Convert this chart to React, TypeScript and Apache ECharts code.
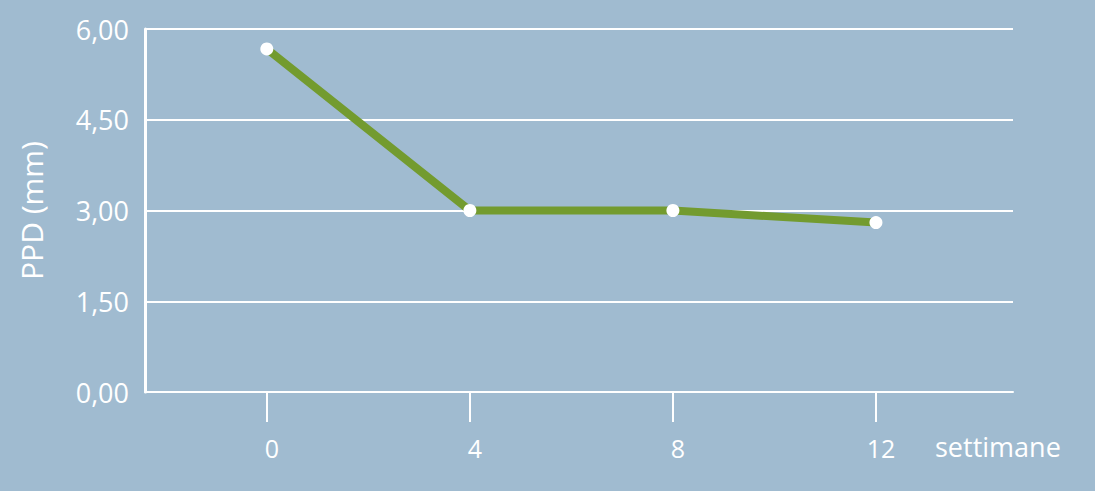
import React, { useEffect, useRef } from 'react';
import * as echarts from 'echarts';

// weeks and PPD values (mm)
const weeks = [0, 4, 8, 12];
const ppd = [5.67, 3.0, 3.0, 2.8];
const yTicks = [0, 1.5, 3, 4.5, 6];

const BG = '#a0bbd0';
const GREEN = '#739b2f';
const FONT = "'Open Sans', sans-serif";

const App: React.FC = () => {
  const chartRef = useRef<HTMLDivElement>(null);

  useEffect(() => {
    if (!chartRef.current) return;
    const chart = echarts.init(chartRef.current, null, { renderer: 'svg' });

    const option: echarts.EChartsOption = {
      animation: false,
      backgroundColor: BG,
      grid: { left: 145, right: 82, top: 29, bottom: 99 },
      xAxis: {
        type: 'value',
        min: -2.4,
        max: 14.7,
        name: 'settimane',
        nameLocation: 'end',
        nameGap: -78,
        nameTextStyle: {
          color: '#fff',
          fontFamily: FONT,
          fontSize: 27,
          align: 'left',
          verticalAlign: 'top',
          padding: [41, 0, 0, 0]
        },
        axisLine: { show: true, onZero: false, lineStyle: { color: '#fff', width: 2 } },
        axisTick: {
          show: true,
          customValues: weeks,
          length: 30,
          lineStyle: { color: '#fff', width: 2 }
        },
        axisLabel: {
          customValues: weeks,
          color: '#fff',
          fontFamily: FONT,
          fontSize: 25,
          margin: 43,
          padding: [0, 0, 0, 10]
        },
        splitLine: { show: false }
      },
      yAxis: {
        type: 'value',
        min: 0,
        max: 6,
        interval: 1.5,
        name: 'PPD (mm)',
        nameLocation: 'middle',
        nameRotate: 90,
        nameGap: 99,
        nameTextStyle: { color: '#fff', fontFamily: FONT, fontSize: 30 },
        axisLine: { show: true, onZero: false, lineStyle: { color: '#fff', width: 3 } },
        axisTick: { show: false },
        axisLabel: {
          color: '#fff',
          fontFamily: FONT,
          fontSize: 27,
          margin: 16,
          formatter: (v: number) => (yTicks.includes(v) ? v.toFixed(2).replace('.', ',') : '')
        },
        splitLine: { show: true, lineStyle: { color: '#fff', width: 2 } }
      },
      series: [
        {
          type: 'line',
          data: weeks.map((w, i) => [w, ppd[i]]),
          lineStyle: { color: GREEN, width: 8 },
          symbol: 'circle',
          symbolSize: 13,
          itemStyle: { color: '#fff' },
          z: 3
        }
      ]
    };

    chart.setOption(option);
    return () => {
      chart.dispose();
    };
  }, []);

  return (
    <div
      ref={chartRef}
      style={{ position: 'fixed', left: 0, top: 0, width: '1095px', height: '491px' }}
    />
  );
};

export default App;
